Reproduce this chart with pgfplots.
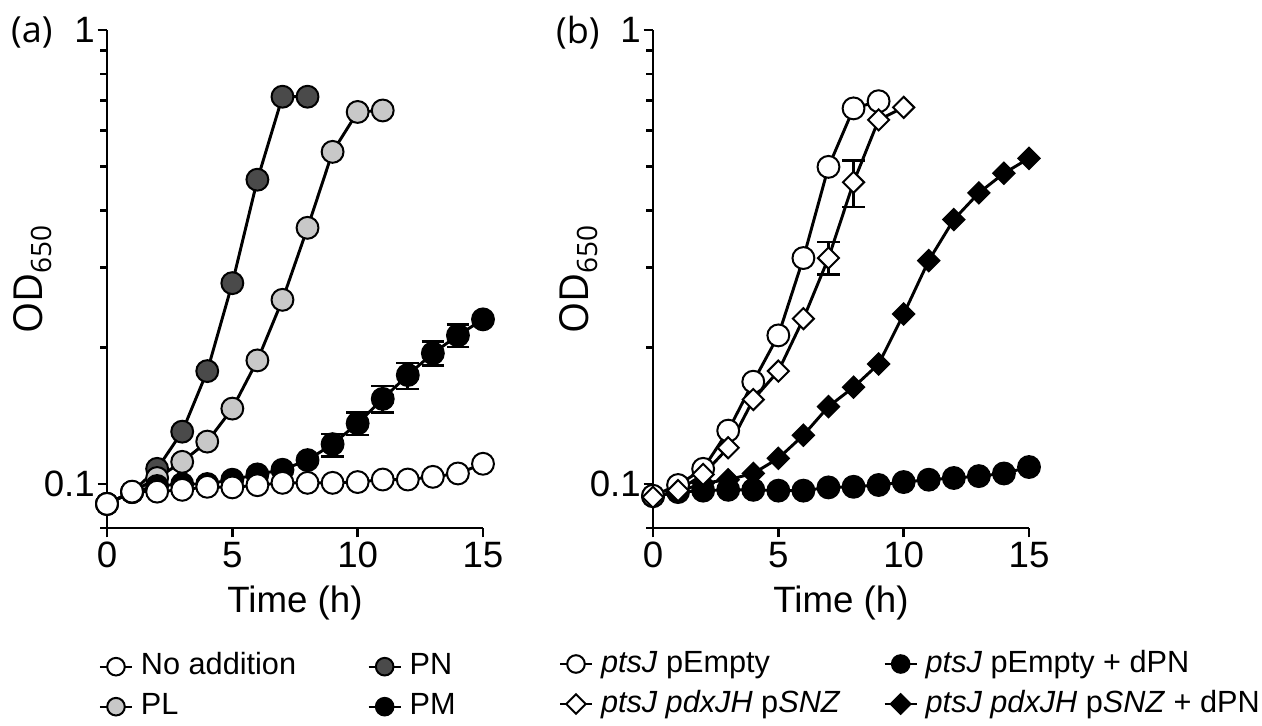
\documentclass[border=0pt]{standalone}
\usepackage{pgfplots}
\pgfplotsset{compat=1.18}
\usepackage{fontspec}
\setmainfont{Liberation Sans}
\newfontfamily\opensans{Open Sans}
\definecolor{pndark}{HTML}{4A4A4A}
\definecolor{pllight}{HTML}{C8C8C8}

\pgfplotsset{
  every axis/.append style={
    scale only axis, width=282pt, height=373.5pt,
    xmin=0, xmax=15, ymin=0.08, ymax=1,
    axis lines*=left, clip=false,
    axis line style={line width=2.2pt},
    xtick={0,5,10,15}, xticklabels={0,5,10,15},
    ytick={0.1,1}, yticklabels={0.1,1},
    minor ytick={0.08,0.2,0.3,0.4,0.5,0.6,0.7,0.8,0.9},
    tick align=outside, major tick length=7pt, minor tick length=5pt,
    major tick style={black, line width=2pt},
    minor tick style={black, line width=2pt},
    tick label style={font=\fontsize{27.5}{30}\selectfont},
    yticklabel style={inner xsep=2pt},
    xlabel style={font=\fontsize{27.5}{30}\selectfont, at={(axis description cs:0.5,-0.15)}, anchor=center},
    ylabel style={font=\fontsize{30}{33}\selectfont, at={(axis description cs:-0.197,0.5)}, anchor=center},
    legend columns=2,
    legend cell align=left,
  },
  legend image code/.code={
    \draw[mark repeat=2, mark phase=2, #1, line width=1.5pt]
      plot coordinates {(0pt,0pt) (12pt,0pt) (24pt,0pt)};},
}
\tikzset{
  ser/.style={black, line width=2.2pt, mark=*, mark size=8.2pt,
    mark options={line width=1.5pt, draw=black, fill=#1, solid}},
  dia/.style={black, line width=2.2pt, mark=square*, mark size=5.6pt,
    mark options={line width=1.5pt, draw=black, fill=#1, rotate=45, solid}},
}

\begin{document}
\begin{tikzpicture}
\useasboundingbox (-80.25pt,-147.75pt) rectangle (866.25pt,396pt);

% ---------------- panel (a)
\begin{semilogyaxis}[at={(0pt,0pt)}, anchor=south west,
  xlabel={Time (h)}, ylabel={\opensans OD\textsubscript{650}},
  legend style={draw=none, fill=none, inner sep=0pt, outer sep=0pt,
    at={(axis description cs:0,0)}, anchor=north west, xshift=-6pt, yshift=-93pt,
    font=\fontsize{23}{26}\selectfont,
    nodes={inner sep=0pt, text height=17pt, text depth=5pt},
    row sep=8pt, /tikz/every odd column/.append style={column sep=6pt}}]
\node[font=\opensans\fontsize{27}{30}\selectfont] at (axis description cs:-0.2,0.994) {(a)};

% PM error bars
\addplot[forget plot, only marks, mark=none,
  error bars/.cd, y dir=both, y explicit, error mark=-,
  error bar style={draw=black, line width=2pt},
  error mark options={rotate=90, draw=black, mark size=8.5pt, line width=2pt}] coordinates {
  (9,0.1224) += (0,0.0064) -= (0,0.0075)
  (10,0.136) += (0,0.0077) -= (0,0.0078)
  (11,0.154) += (0,0.0103) -= (0,0.0105)
  (12,0.1738) += (0,0.0110) -= (0,0.0118)
  (13,0.1941) += (0,0.0119) -= (0,0.0118)
  (14,0.2125) += (0,0.0119) -= (0,0.0123)
};
% PN
\addplot[ser=pndark, forget plot] coordinates {
  (0,0.0904) (1,0.096) (2,0.108) (3,0.1304) (4,0.1773) (5,0.277)
  (6,0.468) (7,0.713) (8,0.713)
};
% PL
\addplot[ser=pllight, forget plot] coordinates {
  (0,0.0904) (1,0.096) (2,0.1031) (3,0.1119) (4,0.124) (5,0.1466)
  (6,0.1872) (7,0.2545) (8,0.3667) (9,0.539) (10,0.66) (11,0.665)
};
% PM
\addplot[ser=black, forget plot] coordinates {
  (0,0.0904) (1,0.096) (2,0.099) (3,0.1) (4,0.1) (5,0.1022)
  (6,0.105) (7,0.1075) (8,0.1129) (9,0.1224) (10,0.136) (11,0.154)
  (12,0.1738) (13,0.1941) (14,0.2125) (15,0.2305)
};
% No addition
\addplot[ser=white, forget plot] coordinates {
  (0,0.0904) (1,0.0962) (2,0.0962) (3,0.0971) (4,0.0986) (5,0.0983)
  (6,0.0994) (7,0.1006) (8,0.1006) (9,0.1006) (10,0.101) (11,0.1023)
  (12,0.1023) (13,0.1037) (14,0.1055) (15,0.1108)
};

\addlegendimage{ser=white, mark size=6.6pt}
\addlegendentry{\makebox[170pt][l]{No addition}}
\addlegendimage{ser=pndark, mark size=6.6pt}
\addlegendentry{PN}
\addlegendimage{ser=pllight, mark size=6.6pt}
\addlegendentry{\makebox[170pt][l]{PL}}
\addlegendimage{ser=black, mark size=6.6pt}
\addlegendentry{PM}
\end{semilogyaxis}

% ---------------- panel (b)
\begin{semilogyaxis}[at={(409.5pt,0pt)}, anchor=south west,
  xlabel={Time (h)}, ylabel={\opensans OD\textsubscript{650}},
  legend style={draw=none, fill=none, inner sep=0pt, outer sep=0pt,
    at={(axis description cs:0,0)}, anchor=north west, xshift=-70.5pt, yshift=-91pt,
    font=\fontsize{23}{26}\selectfont,
    nodes={inner sep=0pt, text height=17pt, text depth=5pt},
    row sep=8pt, /tikz/every odd column/.append style={column sep=6pt}}]
\node[font=\opensans\fontsize{27}{30}\selectfont] at (axis description cs:-0.2,0.994) {(b)};

% open diamond error bars
\addplot[forget plot, only marks, mark=none,
  error bars/.cd, y dir=both, y explicit, error mark=-,
  error bar style={draw=black, line width=2pt},
  error mark options={rotate=90, draw=black, mark size=8.5pt, line width=2pt}] coordinates {
  (7,0.3146) += (0,0.0264) -= (0,0.0253)
  (8,0.462) += (0,0.0535) -= (0,0.0546)
};
% ptsJ pEmpty + dPN
\addplot[ser=black, forget plot] coordinates {
  (0,0.094) (1,0.096) (2,0.0967) (3,0.0971) (4,0.0971) (5,0.0967)
  (6,0.0967) (7,0.0983) (8,0.0986) (9,0.0995) (10,0.101) (11,0.1022)
  (12,0.1031) (13,0.1041) (14,0.1055) (15,0.109)
};
% ptsJ pdxJH pSNZ + dPN
\addplot[dia=black, forget plot] coordinates {
  (0,0.0935) (1,0.0962) (2,0.1004) (3,0.1022) (4,0.1055) (5,0.1139)
  (6,0.1281) (7,0.1481) (8,0.1634) (9,0.1838) (10,0.2368) (11,0.3106)
  (12,0.3824) (13,0.4378) (14,0.4836) (15,0.5217)
};
% ptsJ pEmpty
\addplot[ser=white, forget plot] coordinates {
  (0,0.0942) (1,0.0995) (2,0.108) (3,0.1311) (4,0.168) (5,0.2125)
  (6,0.3146) (7,0.4995) (8,0.672) (9,0.697)
};
% ptsJ pdxJH pSNZ
\addplot[dia=white, forget plot] coordinates {
  (0,0.0935) (1,0.0967) (2,0.105) (3,0.1202) (4,0.1535) (5,0.1773)
  (6,0.2313) (7,0.3146) (8,0.462) (9,0.634) (10,0.6755)
};

\addlegendimage{ser=white, mark size=6.6pt}
\addlegendentry{\makebox[212pt][l]{\textit{ptsJ} pEmpty}}
\addlegendimage{ser=black, mark size=6.6pt}
\addlegendentry{\textit{ptsJ} pEmpty + dPN}
\addlegendimage{dia=white, mark size=5.2pt}
\addlegendentry{\makebox[212pt][l]{\textit{ptsJ pdxJH} p\textit{SNZ}}}
\addlegendimage{dia=black, mark size=5.2pt}
\addlegendentry{\textit{ptsJ pdxJH} p\textit{SNZ} + dPN}
\end{semilogyaxis}
\end{tikzpicture}
\end{document}
